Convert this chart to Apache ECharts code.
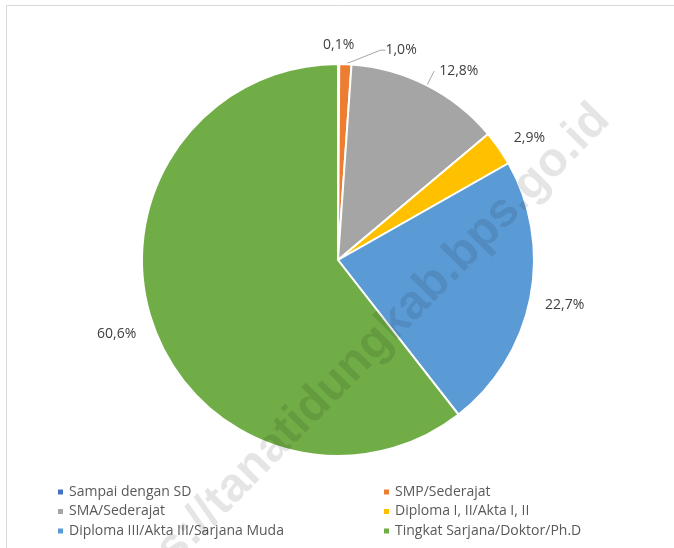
<!DOCTYPE html>
<html>
<head>
<meta charset="utf-8">
<script src="https://cdn.jsdelivr.net/npm/echarts@6/dist/echarts.min.js"></script>
<style>html,body{margin:0;padding:0;background:#fff;}#c{width:674px;height:548px;}</style>
</head>
<body>
<div id="c"></div>
<script>
const categories = ["Sampai dengan SD", "SMP/Sederajat", "SMA/Sederajat", "Diploma I, II/Akta I, II", "Diploma III/Akta III/Sarjana Muda", "Tingkat Sarjana/Doktor/Ph.D"];
const values = [0.1, 1.0, 12.8, 2.9, 22.7, 60.6];
const colors = ["#4472C4", "#ED7D31", "#A5A5A5", "#FFC000", "#5B9BD5", "#70AD47"];
const legendLeft = [categories[0], categories[2], categories[4]];
const legendRight = [categories[1], categories[3], categories[5]];
// per-slice label line settings [length, length2, showLine]
const labelLines = [[19, 0, false], [3, 5, true], [16, 0, true], [12, 0, false], [10, 0, false], [12, 0, false]];
// small label nudges [dx, dy]
const labelNudge = [[-5, 0], [30, -11], [0, 0], [0, -3], [0, 5], [0, 6]];

const FONT = "'Open Sans', 'Noto Sans', sans-serif";
const chart = echarts.init(document.getElementById('c'));

const data = values.map((v, i) => ({
  name: categories[i],
  value: v,
  itemStyle: { color: colors[i] },
  labelLine: { show: labelLines[i][2], length: labelLines[i][0], length2: labelLines[i][1] }
}));

const legendCommon = {
  orient: 'vertical',
  icon: 'rect',
  itemWidth: 7,
  itemHeight: 7,
  itemGap: 3.5,
  top: 479,
  textStyle: { fontFamily: FONT, fontSize: 14, color: '#595959', lineHeight: 16 },
  selectedMode: false
};

chart.setOption({
  animation: false,
  backgroundColor: '#fff',
  legend: [
    Object.assign({ left: 51, data: legendLeft }, legendCommon),
    Object.assign({ left: 377, data: legendRight }, legendCommon)
  ],
  graphic: [
    { type: 'rect', silent: true, z: 1, shape: { x: 6.5, y: 5.5, width: 720, height: 620 },
      style: { fill: 'none', stroke: '#d9d9d9', lineWidth: 1 } },
    { type: 'text', silent: true, z: 100, x: 602, y: 112, rotation: 45.5 * Math.PI / 180,
      style: { text: 'https://tanatidungkab.bps.go.id', fill: 'rgba(0,0,0,0.1)',
        font: 'bold 48px "Liberation Sans", Arial, sans-serif', align: 'right', verticalAlign: 'middle' } }
  ],
  series: [{
    type: 'pie',
    center: [338, 260],
    radius: 196,
    startAngle: 90,
    clockwise: true,
    avoidLabelOverlap: false,
    minAngle: 0,
    itemStyle: { borderColor: '#fff', borderWidth: 2 },
    label: {
      position: 'outside',
      fontFamily: FONT,
      fontSize: 14,
      color: '#404040',
      distanceToLabelLine: 5,
      formatter: p => p.value.toFixed(1).replace('.', ',') + '%'
    },
    labelLine: { lineStyle: { color: '#a6a6a6', width: 1 } },
    labelLayout: p => {
      const n = labelNudge[p.dataIndex];
      if (p.dataIndex === 1) {
        const r = p.labelRect;
        return { x: r.x + n[0], y: r.y + r.height / 2 + n[1], verticalAlign: 'middle', align: 'left' };
      }
      const o = { dx: n[0], dy: n[1] };
      if (p.dataIndex === 0) o.align = 'center';
      return o;
    },
    emphasis: { disabled: true },
    data: data
  }]
});
</script>
</body>
</html>
